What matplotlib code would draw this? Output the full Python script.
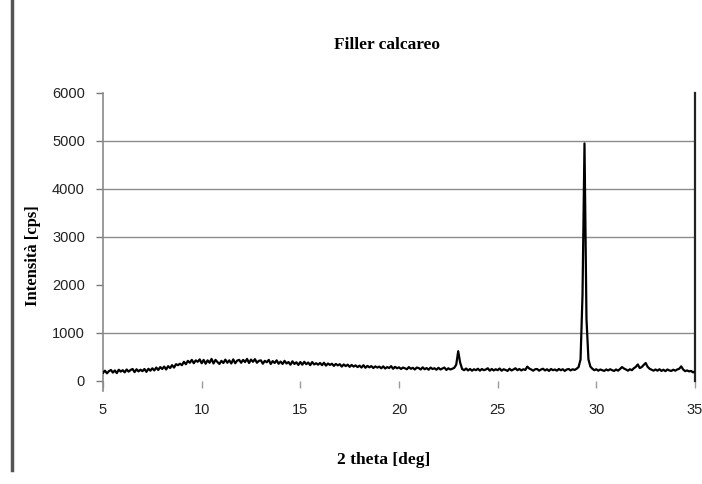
import numpy as np
import matplotlib
matplotlib.use("Agg")
import matplotlib.pyplot as plt
from matplotlib.lines import Line2D

# Diffractogram of the limestone filler, 2-theta from 5 to 35 deg, step 0.1 deg
two_theta_start = 5.0
two_theta_step = 0.1
intensity = [
    # 5.x
    170, 215, 160, 205, 230, 175, 220, 165, 235, 195,
    # 6.x
    225, 180, 240, 195, 230, 250, 185, 245, 200, 235,
    # 7.x
    205, 250, 190, 255, 215, 265, 220, 280, 230, 290,
    # 8.x
    250, 300, 240, 310, 270, 330, 280, 350, 330, 360,
    # 9.x
    330, 400, 350, 420, 380, 440, 370, 430, 400, 450,
    # 10.x
    370, 440, 360, 430, 380, 460, 365, 440, 395, 355,
    # 11.x
    420, 375, 445, 380, 430, 365, 450, 370, 425, 440,
    # 12.x
    380, 440, 395, 460, 375, 445, 400, 455, 380, 420,
    # 13.x
    430, 360, 420, 390, 440, 355, 415, 375, 430, 360,
    # 14.x
    405, 355, 420, 365, 395, 340, 410, 355, 390, 335,
    # 15.x
    395, 340, 400, 350, 385, 330, 395, 345, 370, 340,
    # 16.x
    375, 330, 380, 320, 365, 335, 360, 315, 355, 325,
    # 17.x
    350, 300, 345, 310, 340, 295, 335, 300, 325, 290,
    # 18.x
    320, 280, 330, 275, 315, 285, 310, 270, 305, 280,
    # 19.x
    300, 265, 305, 260, 290, 270, 310, 255, 295, 265,
    # 20.x
    285, 250, 280, 265, 245, 290, 255, 275, 240, 280,
    # 21.x
    270, 240, 285, 245, 270, 235, 280, 250, 265, 235,
    # 22.x
    275, 240, 260, 280, 230, 265, 240, 255, 275, 340,
    # 23.x
    620, 380, 250, 225, 260, 220, 250, 215, 245, 225,
    # 24.x
    255, 215, 250, 225, 240, 265, 215, 250, 220, 245,
    # 25.x
    225, 260, 215, 245, 230, 210, 255, 220, 240, 265,
    # 26.x
    225, 250, 220, 245, 230, 300, 260, 240, 215, 245,
    # 27.x
    250, 215, 240, 255, 220, 245, 210, 250, 225, 240,
    # 28.x
    215, 250, 225, 245, 210, 240, 250, 220, 245, 230,
    # 29.x
    255, 290, 450, 1800, 4950, 1300, 450, 300, 255, 225,
    # 30.x
    245, 215, 240, 225, 210, 240, 220, 245, 225, 210,
    # 31.x
    240, 215, 250, 290, 260, 240, 215, 245, 225, 265,
    # 32.x
    295, 345, 270, 290, 335, 375, 295, 255, 235, 215,
    # 33.x
    240, 215, 245, 210, 235, 205, 240, 220, 210, 235,
    # 34.x
    215, 240, 255, 305, 240, 205, 220, 200, 210, 180,
    # 35.0
    195,
]
two_theta = two_theta_start + two_theta_step * np.arange(len(intensity))

x_ticks = [5, 10, 15, 20, 25, 30, 35]
y_ticks = [0, 1000, 2000, 3000, 4000, 5000, 6000]
grid_levels = [1000, 3000, 4000, 5000]

title = "Filler calcareo"
x_label = "2 theta [deg]"
y_label = "Intensità [cps]"

W, H = 702, 484
fig = plt.figure(figsize=(W / 100, H / 100), dpi=100)
ax = fig.add_axes([103 / W, 1 - 381 / H, (695 - 103) / W, (381 - 93) / H])

ax.set_xlim(5, 35)
ax.set_ylim(0, 6000)

for lvl in grid_levels:
    ax.axhline(lvl, color="#8c8c8c", lw=1.0, zorder=1)

ax.plot(two_theta, intensity, color="black", lw=1.6, zorder=3)

tick_font = {"family": "Liberation Sans", "size": 10.5}
ax.set_xticks(x_ticks)
ax.set_xticklabels([str(t) for t in x_ticks], **tick_font)
ax.set_yticks(y_ticks)
ax.set_yticklabels([str(t) for t in y_ticks], **tick_font)
ax.tick_params(axis="x", direction="out", length=5, width=1, color="#9a9a9a",
               pad=11, labelcolor="#222222")
ax.tick_params(axis="y", direction="out", length=5, width=1, color="#7a7a7a",
               pad=8, labelcolor="#222222")

for side in ("top", "bottom"):
    ax.spines[side].set_visible(False)
ax.spines["left"].set_color("#8a8a8a")
ax.spines["left"].set_linewidth(1.2)
ax.spines["right"].set_color("#222222")
ax.spines["right"].set_linewidth(1.6)
ax.spines["left"].set_bounds(-200, 6000)

fig.text(387 / W, 1 - 45 / H, title, ha="center", va="center",
         family="Liberation Serif", weight="bold", size=12.5)
fig.text(384 / W, 1 - 460 / H, x_label, ha="center", va="center",
         family="Liberation Serif", weight="bold", size=12.5)
fig.text(33 / W, 1 - 256 / H, y_label, ha="center", va="center",
         rotation=90, family="Liberation Serif", weight="bold", size=12)

# page rule running down the left margin
fig.add_artist(Line2D([12 / W, 12 / W], [1 - 470 / H, 1.0],
                      transform=fig.transFigure, color="#555555", lw=2.5))

fig.savefig("out.png", dpi=100, facecolor="white")
